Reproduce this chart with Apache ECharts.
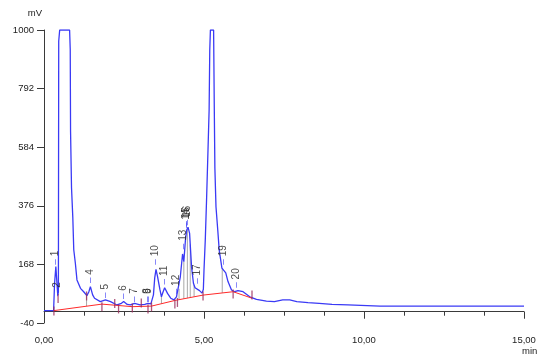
<!DOCTYPE html>
<html>
<head>
<meta charset="utf-8">
<script src="https://cdn.jsdelivr.net/npm/echarts@6/dist/echarts.min.js"></script>
<style>
html,body{margin:0;padding:0;background:#fff;}
#chart{width:549px;height:364px;}
</style>
</head>
<body>
<div id="chart"></div>
<script>
// Chromatogram signal (time in min, signal in mV)
const timeMin = [0.00,0.30,0.33,0.37,0.40,0.43,0.45,0.46,0.49,0.80,0.82,0.83,0.86,0.90,0.93,0.98,1.03,1.14,1.24,1.34,1.40,1.45,1.52,1.58,1.76,1.92,2.08,2.28,2.42,2.49,2.60,2.70,2.83,3.00,3.15,3.25,3.34,3.42,3.46,3.50,3.55,3.62,3.67,3.72,3.77,3.86,3.96,4.06,4.14,4.20,4.26,4.33,4.37,4.42,4.46,4.50,4.55,4.61,4.67,4.72,4.78,4.86,4.94,4.98,5.00,5.04,5.08,5.125,5.16,5.18,5.20,5.30,5.32,5.34,5.375,5.43,5.475,5.56,5.62,5.68,5.75,5.86,5.96,6.06,6.22,6.43,6.64,6.95,7.20,7.46,7.68,7.90,8.25,8.60,9.00,9.50,10.50,15.00];
const signalMv = [4,4,100,160,110,58,70,960,1000,1000,930,640,440,335,220,172,113,83,71,57,70,89,60,48,36,42,36,24,30,36,26,24,30,24,26,30,28,60,120,150,124,80,53,70,85,65,48,42,53,60,124,205,178,255,290,300,278,160,101,85,88,75,66,80,148,255,397,574,716,929,1000,1000,741,510,372,290,219,155,148,138,107,77,71,75,71,53,44,38,36,42,42,36,32,30,26,24,20,20];

// Integration baseline
const baseTime = [0.31,1.81,2.76,3.36,4.09,4.97,5.91,6.50];
const baseMv = [4,27,18,20,40,59,71,48];

// Peak labels
const peakNames = ['1','2','4','5','6','7','8','9','10','11','12','13','14','15','16','17','19','20'];
const peakTime = [0.36,0.41,1.45,1.92,2.49,2.83,3.24,3.26,3.49,3.77,4.14,4.34,4.43,4.46,4.49,4.79,5.59,6.01];
const peakMv = [160,48,95,42,38,27,27,27,160,90,55,215,290,295,300,92,160,78];

// Peak start/end markers
const cutTime = [0.31,0.44,1.33,1.81,2.21,2.33,2.76,3.04,3.25,3.36,4.09,4.17,4.97,5.91,6.50];
const cutMv = [3,47,56,18,29,10,13,31,10,17,27,33,56,63,59];

// Drop lines (from curve to baseline)
const dropTime = [1.33,3.67,4.22,4.37,4.48,4.57,4.69,5.57];

const xTicks = [0,5,10,15];
const yTicks = [-40,168,376,584,792,1000];

function interp(xs, ys, x) {
  if (x <= xs[0]) return ys[0];
  for (let i = 1; i < xs.length; i++) {
    if (x <= xs[i]) {
      const f = (x - xs[i-1]) / (xs[i] - xs[i-1]);
      return ys[i-1] + f * (ys[i] - ys[i-1]);
    }
  }
  return ys[ys.length-1];
}

const signalData = timeMin.map((t,i)=>[t, signalMv[i]]);
const baseData = baseTime.map((t,i)=>[t, baseMv[i]]);
const cutData = cutTime.map((t,i)=>[t, cutMv[i]]);
const dropData = [];
dropTime.forEach(t=>{
  dropData.push([t, interp(baseTime, baseMv, t)]);
  dropData.push([t, interp(timeMin, signalMv, t)]);
  dropData.push([t, null]);
});
const peakData = peakNames.map((n,i)=>({name:n, value:[peakTime[i], peakMv[i]]}));

const FONT = '"Liberation Sans", Arial, sans-serif';
const chart = echarts.init(document.getElementById('chart'), null, {renderer:'canvas'});
chart.setOption({
  animation: false,
  backgroundColor: '#ffffff',
  grid: {left:44, right:25, top:30, bottom:41, containLabel:false, outerBoundsMode:'none'},
  graphic: [
    {type:'text', left:522, top:346, style:{text:'min', fontFamily:FONT, fontSize:9.5, fill:'#222'}}
  ],
  xAxis: {
    type:'value', min: xTicks[0], max: xTicks[xTicks.length-1], interval: 5,
    axisLine: {show:true, lineStyle:{color:'#3a3a3a', width:1}},
    axisTick: {show:true, length:7, lineStyle:{color:'#3a3a3a'}},
    minorTick: {show:true, splitNumber:4, length:4, lineStyle:{color:'#3a3a3a'}},
    axisLabel: {fontFamily:FONT, fontSize:9.5, color:'#222', margin:12,
      formatter: v => v.toFixed(2).replace('.', ',')},
    splitLine: {show:false}
  },
  yAxis: {
    type:'value', min: yTicks[0], max: yTicks[yTicks.length-1], interval: 208,
    name: 'mV', nameLocation:'end', nameGap: 12,
    nameTextStyle: {fontFamily:FONT, fontSize:9.5, color:'#222', align:'right', padding:[0,2,0,0]},
    axisLine: {show:true, lineStyle:{color:'#3a3a3a', width:1}},
    axisTick: {show:true, length:7, lineStyle:{color:'#3a3a3a'}},
    axisLabel: {fontFamily:FONT, fontSize:9.5, color:'#222', margin:10,
      formatter: v => String(v)},
    splitLine: {show:false}
  },
  series: [
    {type:'line', data: dropData, symbol:'none', connectNulls:false,
      lineStyle:{color:'#a8a8a8', width:1}, z:1},
    {type:'line', data: signalData, symbol:'none',
      lineStyle:{color:'#3a3af5', width:1.3}, z:3},
    {type:'line', data: baseData, symbol:'none',
      lineStyle:{color:'#ff2a2a', width:1}, z:4},
    {type:'scatter', data: cutData, symbol:'rect', symbolSize:[1.3,9],
      itemStyle:{color:'#9a2c5c'}, z:5},
    {type:'scatter', data: peakData, symbolSize:0, z:6,
      label:{show:true, position:'top', distance:2, rotate:90, align:'left', verticalAlign:'middle',
        formatter: p => '{d|–} {n|' + p.name + '}',
        rich:{
          d:{color:'#3a3af5', fontFamily:FONT, fontSize:10},
          n:{color:'#222', fontFamily:FONT, fontSize:10}
        },
        fontFamily:FONT, fontSize:10, color:'#222'}
    }
  ]
});
</script>
</body>
</html>
